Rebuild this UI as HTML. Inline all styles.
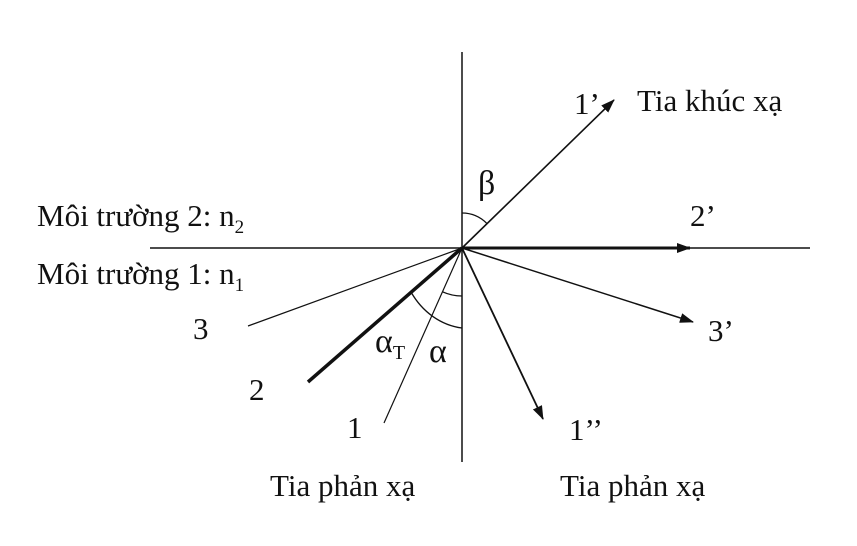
<!DOCTYPE html>
<html><head><style>
body{margin:0;background:#fff;}
</style></head><body>
<svg width="857" height="541" viewBox="0 0 857 541" xmlns="http://www.w3.org/2000/svg" font-family="'Liberation Serif', serif" font-size="31" fill="#111">
<defs><marker id="a" markerWidth="14" markerHeight="10" refX="13" refY="5" orient="auto" markerUnits="userSpaceOnUse"><path d="M0,0 L14,5 L0,10 Z" fill="#111"/></marker></defs>
<g stroke="#111" fill="none">
<line x1="462" y1="52" x2="462" y2="462" stroke-width="1.5"/>
<line x1="150" y1="248" x2="810" y2="248" stroke-width="1.5"/>
<line x1="462" y1="248" x2="614" y2="100" stroke-width="1.6" marker-end="url(#a)"/>
<line x1="462" y1="248" x2="690" y2="248" stroke-width="3" marker-end="url(#a)"/>
<line x1="462" y1="248" x2="693" y2="322" stroke-width="1.5" marker-end="url(#a)"/>
<line x1="462" y1="248" x2="543" y2="419" stroke-width="1.8" marker-end="url(#a)"/>
<line x1="462" y1="248" x2="248" y2="326" stroke-width="1.2"/>
<line x1="462" y1="248" x2="308" y2="382" stroke-width="3.5"/>
<line x1="462" y1="248" x2="384" y2="423" stroke-width="1.2"/>
<path d="M462,213 A35,35 0 0 1 487,223.6" stroke-width="1.3"/>
<path d="M411,292 A70,80 0 0 0 462,328" stroke-width="1.3"/>
<path d="M442.5,291.8 A48,48 0 0 0 462,296" stroke-width="1.3"/>
</g>
<g font-family="'Liberation Serif', serif" font-size="31">
<text x="37" y="226">Môi trường 2: n<tspan font-size="19" dy="7">2</tspan></text>
<text x="37" y="284">Môi trường 1: n<tspan font-size="19" dy="7">1</tspan></text>
<text x="574" y="114">1’</text>
<text x="637" y="111">Tia khúc xạ</text>
<text x="478" y="194" font-size="34">β</text>
<text x="690" y="226">2’</text>
<text x="708" y="341">3’</text>
<text x="569" y="440">1’’</text>
<text x="193" y="339">3</text>
<text x="249" y="400">2</text>
<text x="347" y="438">1</text>
<text x="375" y="352" font-size="34">α<tspan font-size="20" dy="7">T</tspan></text>
<text x="429" y="362" font-size="34">α</text>
<text x="270" y="496">Tia phản xạ</text>
<text x="560" y="496">Tia phản xạ</text>
</g>
</svg>
</body></html>
